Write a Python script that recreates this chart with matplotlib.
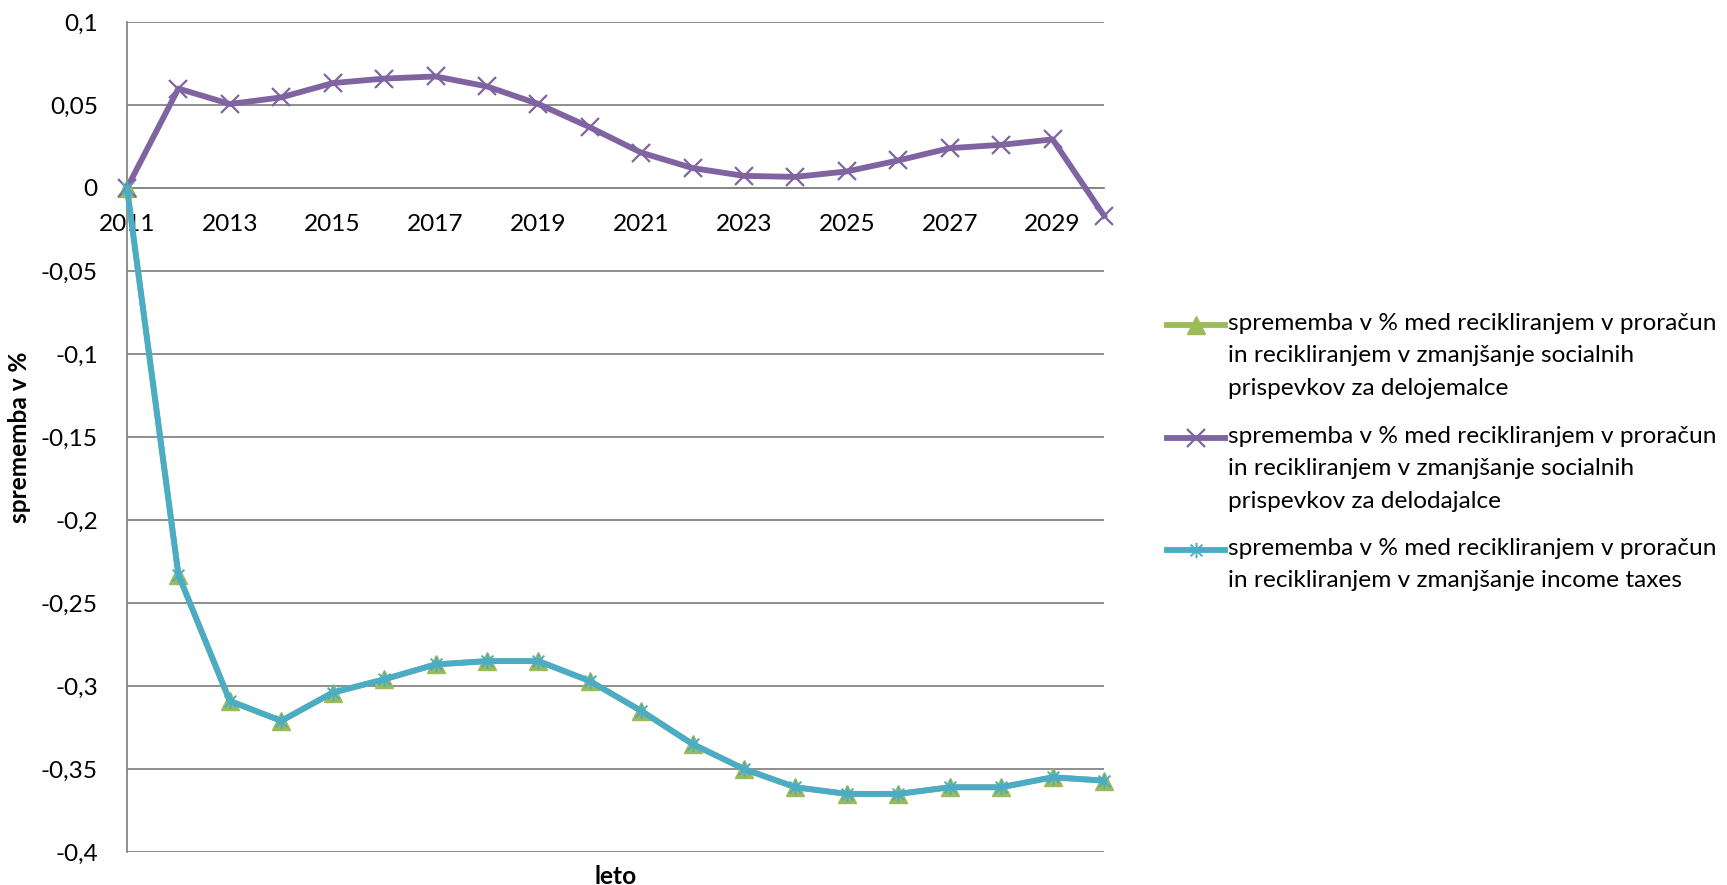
import matplotlib.pyplot as plt
from matplotlib.lines import Line2D
from matplotlib.path import Path
from matplotlib.ticker import FuncFormatter, MultipleLocator

plt.rcParams['font.family'] = ['Lato', 'DejaVu Sans']

leta = list(range(2011, 2031))

# delojemalci (zeleno), delodajalci (vijolično), dohodnina (modro)
delojemalci = [0, -0.233, -0.309, -0.321, -0.304, -0.296, -0.287, -0.285, -0.285, -0.297,
               -0.315, -0.335, -0.350, -0.361, -0.365, -0.365, -0.361, -0.361, -0.355, -0.357]
delodajalci = [0, 0.0599, 0.0506, 0.0546, 0.0632, 0.0659, 0.0672, 0.0612, 0.0506, 0.0366,
               0.0213, 0.0120, 0.0073, 0.0067, 0.0100, 0.0166, 0.0240, 0.0260, 0.0293, -0.0166]
dohodnina = [0, -0.233, -0.309, -0.321, -0.304, -0.296, -0.287, -0.285, -0.285, -0.297,
             -0.315, -0.335, -0.350, -0.361, -0.365, -0.365, -0.361, -0.361, -0.355, -0.357]

oznake = [
    'sprememba v % med recikliranjem v proračun\nin recikliranjem v zmanjšanje socialnih\nprispevkov za delojemalce',
    'sprememba v % med recikliranjem v proračun\nin recikliranjem v zmanjšanje socialnih\nprispevkov za delodajalce',
    'sprememba v % med recikliranjem v proračun\nin recikliranjem v zmanjšanje income taxes',
]

# zvezdica kot v Excelu: x + navpična črta
zvezdica = Path([(-1, -1), (1, 1), (-1, 1), (1, -1), (0, -1.3), (0, 1.3)],
                [Path.MOVETO, Path.LINETO, Path.MOVETO, Path.LINETO, Path.MOVETO, Path.LINETO])

W, H = 1727, 885
fs = 17.6
lw = 4.2

fig = plt.figure(figsize=(W / 100, H / 100), dpi=100)
ax = fig.add_axes([127 / W, 1 - 852 / H, (1104 - 127) / W, (852 - 22) / H])

slogi = [
    dict(color='#9BBB59', marker='^', ms=12.5, mec='#9BBB59', mfc='#9BBB59'),
    dict(color='#8064A2', marker='x', ms=13, mew=1.6),
    dict(color='#4BACC6', marker=zvezdica, ms=11, mew=1.4),
]

for i, serija in enumerate([delojemalci, delodajalci, dohodnina]):
    ax.plot(leta, serija, lw=lw, clip_on=False, zorder=3 + i, **slogi[i])

ax.set_xlim(2011, 2030)
ax.set_ylim(-0.4, 0.1)
ax.yaxis.set_major_locator(MultipleLocator(0.05))
ax.set_xticks(range(2011, 2030, 2))


def vejica(v, pos):
    s = ('%.2f' % v).rstrip('0').rstrip('.')
    if s == '-0':
        s = '0'
    return s.replace('.', ',')


ax.yaxis.set_major_formatter(FuncFormatter(vejica))

siva = '#868686'
ax.grid(axis='y', color=siva, lw=1.3)
ax.set_axisbelow(True)
for s in ['top', 'right']:
    ax.spines[s].set_visible(False)
ax.spines['bottom'].set_position(('data', 0))
for s in ['bottom', 'left']:
    ax.spines[s].set_color(siva)
    ax.spines[s].set_linewidth(1.3)
ax.tick_params(axis='x', length=0, pad=19, labelsize=fs)
ax.tick_params(axis='y', length=0, pad=21, labelsize=fs)

ax.set_xlabel('leto', fontsize=fs, fontweight='bold', va='center')
ax.xaxis.set_label_coords(0.5, -0.029)
ax.set_ylabel('sprememba v %', fontsize=fs, fontweight='bold')
ax.yaxis.set_label_coords(-0.098, 0.5)

# legenda: simbol poravnan s prvo vrstico besedila
vrstice_y = [325, 438, 550]
for oznaka, slog, y in zip(oznake, slogi, vrstice_y):
    yf = 1 - y / H
    fig.add_artist(Line2D([1167 / W, 1196 / W, 1225 / W], [yf, yf, yf], lw=lw,
                          markevery=[1], transform=fig.transFigure, **slog))
    fig.text(1228 / W, yf + 12 / H, oznaka, fontsize=fs, va='top', ha='left',
             linespacing=1.67)

fig.savefig('out.png', dpi=100)
